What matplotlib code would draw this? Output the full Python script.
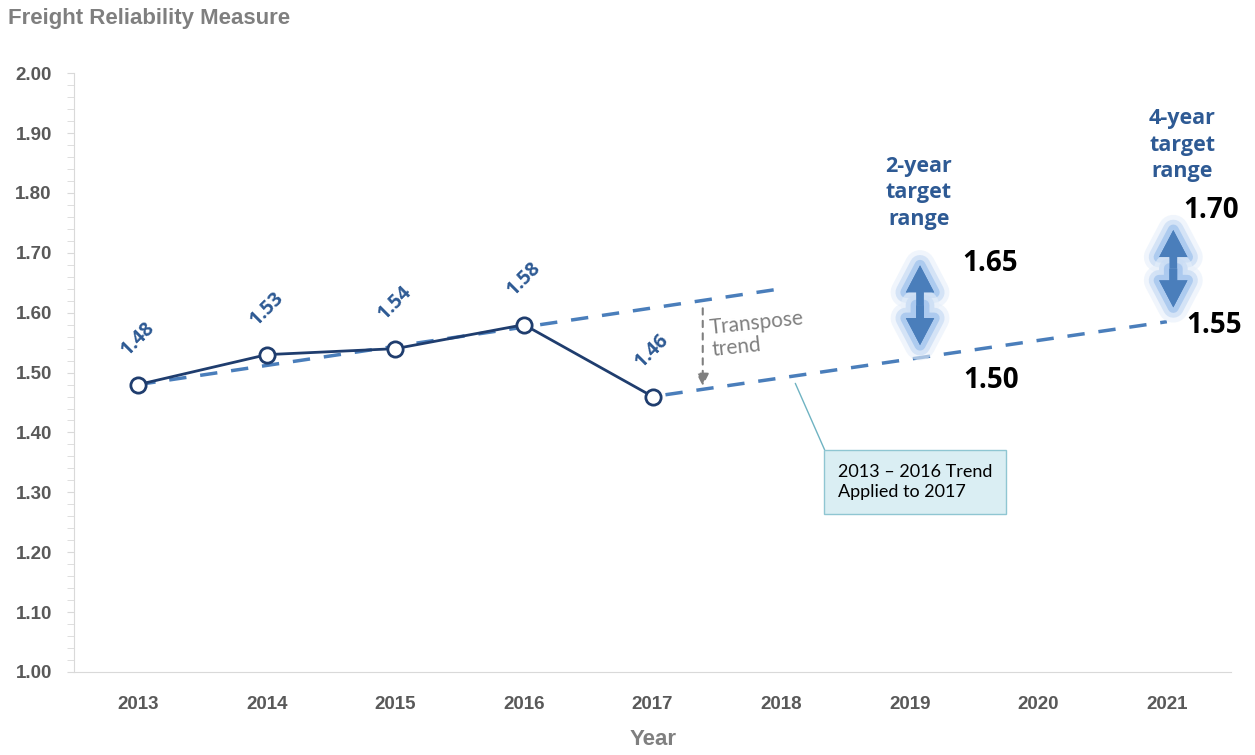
import matplotlib.pyplot as plt
import matplotlib.patheffects as pe
from matplotlib.ticker import MultipleLocator

# measured values
years = [2013, 2014, 2015, 2016, 2017]
values = [1.48, 1.53, 1.54, 1.58, 1.46]
labels = ['1.48', '1.53', '1.54', '1.58', '1.46']
all_years = [2013, 2014, 2015, 2016, 2017, 2018, 2019, 2020, 2021]

# 2013-2016 trend and the same trend moved to start at 2017
trend_years = [2013, 2018.03]
trend_vals = [1.48, 1.641]
applied_years = [2017.1, 2021]
applied_vals = [1.463, 1.585]

# target ranges (arrow ends) and their labels
target_years = [2019.08, 2021.05]
target_low = [1.546, 1.609]
target_high = [1.679, 1.738]
target_low_txt = ['1.50', '1.55']
target_high_txt = ['1.65', '1.70']
target_names = ['2-year\ntarget\nrange', '4-year\ntarget\nrange']

navy = '#1f3d6e'
dash_blue = '#4a7ebb'
label_blue = '#2e5a94'
gray = '#7f7f7f'
arial = 'Liberation Sans'
calibri_b = 'Open Sans'
calibri = 'Lato'

fig = plt.figure(figsize=(12.55, 7.55), dpi=100)
ax = fig.add_axes([0.059, 0.110, 0.922, 0.793])

ax.plot(trend_years, trend_vals, ls=(0, (5, 4)), color=dash_blue, lw=2.5, zorder=2)
ax.plot(applied_years, applied_vals, ls=(0, (5, 4)), color=dash_blue, lw=2.5, zorder=2)
ax.plot(years, values, color=navy, lw=2, marker='o', ms=11, mfc='white',
        mec=navy, mew=2, zorder=3)

for x, y, t in zip(years, values, labels):
    ax.text(x, y + 0.077, t, rotation=45, ha='center', va='center',
            color=label_blue, fontsize=14, fontweight='bold', family=calibri_b)

# transpose arrow
ax.annotate('', xy=(2017.39, 1.473), xytext=(2017.39, 1.612),
            arrowprops=dict(arrowstyle='-|>', color=gray, lw=1.5, ls=(0, (3, 3)),
                            mutation_scale=18))
ax.text(2017.45, 1.556, 'Transpose\ntrend', color=gray, fontsize=15,
        family=calibri, rotation=6, ha='left', va='center', linespacing=1.1,
        rotation_mode='anchor')

# target arrows with soft glow, drawn as two heads from the middle
glow = [pe.Stroke(linewidth=22, foreground='#e6effa', alpha=0.6, joinstyle='round'),
        pe.Stroke(linewidth=15, foreground='#c9dcf4', alpha=0.7, joinstyle='round'),
        pe.Stroke(linewidth=8, foreground='#a4c5ee', alpha=0.8, joinstyle='round'),
        pe.Normal()]
for i in range(2):
    mid = (target_low[i] + target_high[i]) / 2
    for end in (target_high[i], target_low[i]):
        ax.arrow(target_years[i], mid, 0, end - mid, width=0.06, head_width=0.22,
                 head_length=0.045, length_includes_head=True, fc='#4a7ebb',
                 ec='none', path_effects=glow, zorder=4)
for i in range(2):
    mid = (target_low[i] + target_high[i]) / 2
    for end in (target_high[i], target_low[i]):
        ax.arrow(target_years[i], mid, 0, end - mid, width=0.06, head_width=0.22,
                 head_length=0.045, length_includes_head=True, fc='#4a7ebb',
                 ec='none', zorder=5)

ax.text(2019.07, 1.800, target_names[0], ha='center', va='center', color=label_blue,
        fontsize=15.5, fontweight='bold', family=calibri_b, linespacing=1.35)
ax.text(2021.12, 1.880, target_names[1], ha='center', va='center', color=label_blue,
        fontsize=15.5, fontweight='bold', family=calibri_b, linespacing=1.35)
ax.text(2019.41, 1.683, target_high_txt[0], ha='left', va='center', fontsize=20,
        fontweight='bold', family=calibri_b)
ax.text(2019.42, 1.487, target_low_txt[0], ha='left', va='center', fontsize=20,
        fontweight='bold', family=calibri_b)
ax.text(2021.13, 1.771, target_high_txt[1], ha='left', va='center', fontsize=20,
        fontweight='bold', family=calibri_b)
ax.text(2021.15, 1.579, target_low_txt[1], ha='left', va='center', fontsize=20,
        fontweight='bold', family=calibri_b)

# callout box
ax.annotate('2013 – 2016 Trend\nApplied to 2017', xy=(2018.11, 1.482),
            xytext=(2018.44, 1.317), fontsize=13, family=calibri, va='center',
            ha='left', linespacing=1.35,
            bbox=dict(boxstyle='square,pad=0.75', fc='#daeef3', ec='#8fc6d2', lw=1),
            arrowprops=dict(arrowstyle='-', color='#6fb3c2', lw=1,
                            shrinkA=0, shrinkB=0, relpos=(0, 0.57)))

ax.set_xlim(2012.5, 2021.5)
ax.set_ylim(1.0, 2.0)
ax.set_xticks(all_years)
ax.set_xticklabels([str(y) for y in all_years])
ax.yaxis.set_major_locator(MultipleLocator(0.1))
ax.yaxis.set_minor_locator(MultipleLocator(0.02))
ax.yaxis.set_major_formatter(plt.FormatStrFormatter('%.2f'))

for s in ['top', 'right']:
    ax.spines[s].set_visible(False)
for s in ['left', 'bottom']:
    ax.spines[s].set_color('#d9d9d9')
ax.tick_params(axis='y', which='both', colors='#d9d9d9', length=5, labelcolor='#595959',
               labelsize=13.5, pad=11)
ax.tick_params(axis='x', length=0, labelcolor='#595959', labelsize=13.5, pad=17)
for lab in ax.get_xticklabels() + ax.get_yticklabels():
    lab.set_fontweight('bold')
    lab.set_family(arial)

ax.set_xlabel('Year', color=gray, fontsize=16, fontweight='bold', labelpad=12,
              family=arial)
fig.text(0.006, 0.975, 'Freight Reliability Measure', color=gray, fontsize=16,
         fontweight='bold', va='center', family=arial)

fig.savefig('out.png', dpi=100)
